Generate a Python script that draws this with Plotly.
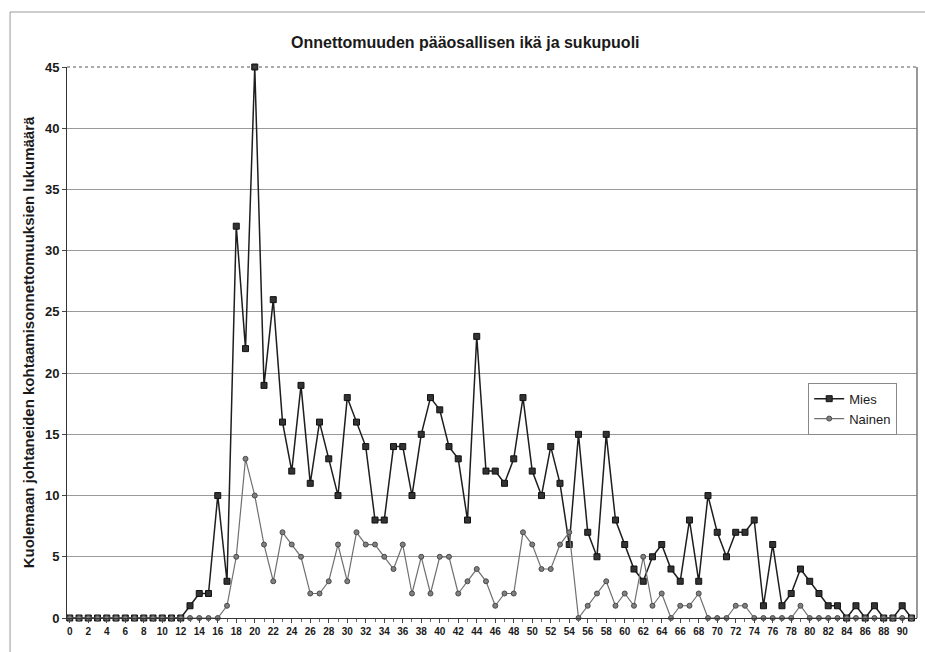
import plotly.graph_objects as go

# Age of the main party of the accident (years)
ages = list(range(0, 92))

# Fatal accidents by age of the main party, men
mies = [0, 0, 0, 0, 0, 0, 0, 0, 0, 0, 0, 0, 0, 1, 2, 2, 10, 3, 32, 22,
        45, 19, 26, 16, 12, 19, 11, 16, 13, 10, 18, 16, 14, 8, 8, 14, 14, 10, 15, 18,
        17, 14, 13, 8, 23, 12, 12, 11, 13, 18, 12, 10, 14, 11, 6, 15, 7, 5, 15, 8,
        6, 4, 3, 5, 6, 4, 3, 8, 3, 10, 7, 5, 7, 7, 8, 1, 6, 1, 2, 4,
        3, 2, 1, 1, 0, 1, 0, 1, 0, 0, 1, 0]

# Fatal accidents by age of the main party, women
nainen = [0, 0, 0, 0, 0, 0, 0, 0, 0, 0, 0, 0, 0, 0, 0, 0, 0, 1, 5, 13,
          10, 6, 3, 7, 6, 5, 2, 2, 3, 6, 3, 7, 6, 6, 5, 4, 6, 2, 5, 2,
          5, 5, 2, 3, 4, 3, 1, 2, 2, 7, 6, 4, 4, 6, 7, 0, 1, 2, 3, 1,
          2, 1, 5, 1, 2, 0, 1, 1, 2, 0, 0, 0, 1, 1, 0, 0, 0, 0, 0, 1,
          0, 0, 0, 0, 0, 0, 0, 0, 0, 0, 0, 0]

x_tick_vals = list(range(0, 91, 2))
y_tick_vals = list(range(0, 46, 5))

font_family = "Liberation Sans, Arial, sans-serif"

fig = go.Figure()

fig.add_trace(go.Scatter(
    x=ages, y=mies, name="Mies", mode="lines+markers",
    line=dict(color="#1e1e1e", width=1.5),
    marker=dict(symbol="square", size=6, color="#333333",
                line=dict(color="#111111", width=1)),
    cliponaxis=False,
))

fig.add_trace(go.Scatter(
    x=ages, y=nainen, name="Nainen", mode="lines+markers",
    line=dict(color="#707070", width=1.2),
    marker=dict(symbol="circle", size=5, color="#808080",
                line=dict(color="#4a4a4a", width=1)),
    cliponaxis=False,
))

fig.update_layout(
    width=925, height=652,
    margin=dict(l=67, r=8, t=67, b=34),
    paper_bgcolor="white", plot_bgcolor="white",
    font=dict(family=font_family, color="#1a1a1a"),
    title=dict(
        text="<b>Onnettomuuden pääosallisen ikä ja sukupuoli</b>",
        x=0.503, xanchor="center", y=0.935, yanchor="middle",
        font=dict(size=16, family=font_family, color="#1a1a1a"),
    ),
    legend=dict(
        x=0.872, y=0.427, xanchor="left", yanchor="top",
        bgcolor="white", bordercolor="#888888", borderwidth=1,
        font=dict(size=13, family=font_family, color="#1a1a1a"),
        itemwidth=30, tracegroupgap=2,
    ),
    showlegend=True,
)

fig.update_xaxes(
    range=[-0.3, 91.6],
    tickmode="array", tickvals=x_tick_vals,
    ticktext=[f"<b>{v}</b>" for v in x_tick_vals],
    tickfont=dict(size=10, family=font_family, color="#1a1a1a"),
    ticks="outside", ticklen=4, tickcolor="#444444",
    minor=dict(dtick=1, tick0=0, ticks="outside", ticklen=3, tickcolor="#666666"),
    showgrid=False, zeroline=False,
    showline=True, linecolor="#333333", linewidth=1,
    mirror=False,
)

fig.update_yaxes(
    range=[0, 45],
    tickmode="array", tickvals=y_tick_vals,
    ticktext=[f"<b>{v}</b>" for v in y_tick_vals],
    tickfont=dict(size=13, family=font_family, color="#1a1a1a"),
    ticks="outside", ticklen=4, tickcolor="#444444",
    showgrid=True, gridcolor="#9a9a9a", gridwidth=1,
    zeroline=False,
    showline=True, linecolor="#333333", linewidth=1,
    title=dict(
        text="<b>Kuolemaan johtaneiden kohtaamisonnettomuuksien lukumäärä</b>",
        font=dict(size=15, family=font_family, color="#1a1a1a"),
        standoff=6,
    ),
)

# Plot-area frame: dotted top edge and grey right edge
fig.add_shape(type="line", xref="paper", yref="paper", x0=0, x1=1, y0=1, y1=1,
              line=dict(color="#555555", width=1, dash="dot"), layer="above")
fig.add_shape(type="line", xref="paper", yref="paper", x0=1, x1=1, y0=0, y1=1,
              line=dict(color="#777777", width=1.5), layer="above")

# Outer chart-area frame (left and top edges)
fig.add_shape(type="line", xref="paper", yref="paper",
              x0=-0.067, x1=-0.067, y0=-0.07, y1=1.0998,
              line=dict(color="#9a9a9a", width=1))
fig.add_shape(type="line", xref="paper", yref="paper",
              x0=-0.067, x1=1.02, y0=1.0998, y1=1.0998,
              line=dict(color="#9a9a9a", width=1))

fig.write_html("out.html")
